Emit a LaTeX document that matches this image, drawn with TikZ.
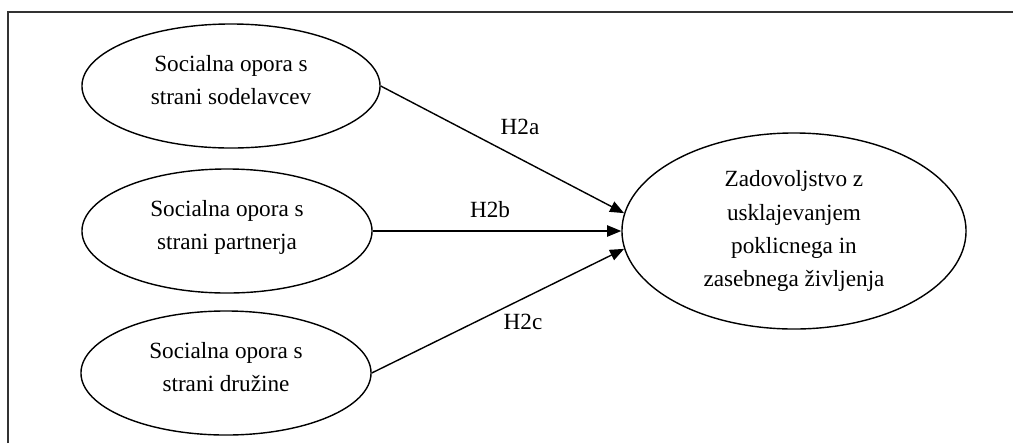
\documentclass[tikz,border=0pt]{standalone}
\usepackage{fontspec}
\setmainfont{Liberation Serif}
\usepackage{tikz}
\usetikzlibrary{shapes.geometric,arrows.meta}

\tikzset{
  opora/.style={draw, ellipse, line width=1pt, inner sep=0pt,
    minimum width=7.25cm, minimum height=3.1cm, align=center,
    text depth=9pt, font=\fontsize{16.5}{23.5}\selectfont},
  izid/.style={opora, text depth={}, minimum width=8.6cm, minimum height=4.9cm},
  pot/.style={line width=1pt, -{Triangle[length=10pt,width=8pt]}},
  oznaka/.style={font=\fontsize{16.5}{20}\selectfont}
}

\begin{document}
\begin{tikzpicture}[x=0.025cm,y=-0.025cm]
  \useasboundingbox (0,0) rectangle (1013,443);
  % okvir
  \draw[line width=1.4pt, black!80] (8,443) -- (8,12) -- (1013,12);

  \node[opora, minimum width=7.45cm] (sod) at (231,86) {Socialna opora s\\strani sodelavcev};
  \node[opora] (par) at (227,231) {Socialna opora s\\strani partnerja};
  \node[opora] (dru) at (226,373) {Socialna opora s\\strani družine};

  \node[izid] (zad) at (794,231) {Zadovoljstvo z\\usklajevanjem\\poklicnega in\\zasebnega življenja};

  \draw[pot] (sod.east) -- (zad.174);
  \draw[pot] (par.east) -- (zad.west);
  \draw[pot] (dru.east) -- (zad.186);

  \node[oznaka] (h2a) at (520,127) {H2a};
  \node[oznaka] (h2b) at (490,210) {H2b};
  \node[oznaka] (h2c) at (523,322) {H2c};
\end{tikzpicture}
\end{document}
